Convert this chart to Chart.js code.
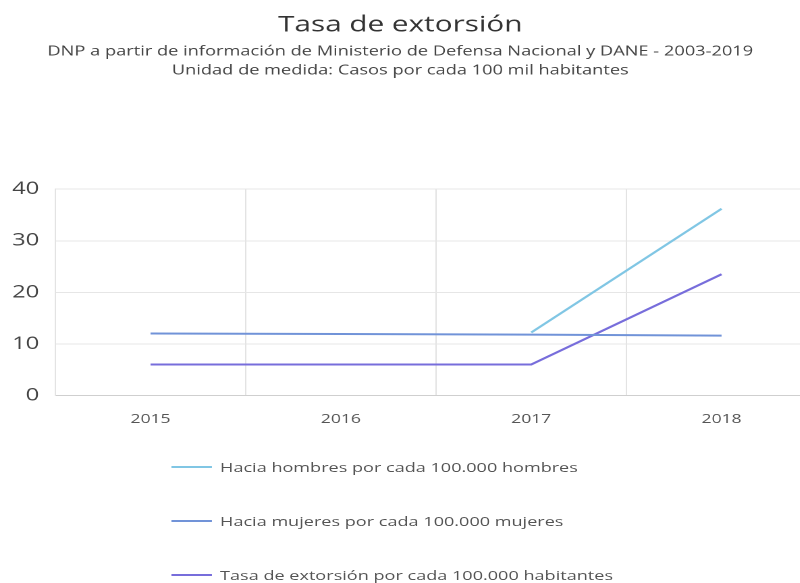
<!DOCTYPE html>
<html>
<head>
<meta charset="utf-8">
<script src="https://cdn.jsdelivr.net/npm/chart.js@4"></script>
<style>
  html, body { margin: 0; padding: 0; background: #fff; overflow: hidden; width: 800px; height: 583px; }
  /* the reference is stretched sideways, so the page is laid out narrower and widened */
  #stage { position: absolute; left: 0; top: 0; width: 593px; height: 583px; transform: scaleX(1.35); transform-origin: 0 0; }
  #chart { display: block; position: absolute; left: 0; top: 0; }
  #legend { position: absolute; left: 127px; top: 457px; font-family: 'Open Sans', sans-serif; font-size: 13.4px; color: #555; }
  .item { display: flex; align-items: center; height: 20px; margin-bottom: 34px; white-space: nowrap; }
  .swatch { width: 30px; height: 2px; margin-right: 6px; }
</style>
</head>
<body>
<div id="stage">
  <canvas id="chart" width="605" height="448"></canvas>
  <div id="legend"></div>
</div>
<script>
const years = ['2015', '2016', '2017', '2018'];
const hombres = [null, null, 12.2, 36.2];
const mujeres = [12, 11.9, 11.8, 11.6];
const tasa = [6, 6, 6, 23.5];

const seriesNames = [
  'Hacia hombres por cada 100.000 hombres',
  'Hacia mujeres por cada 100.000 mujeres',
  'Tasa de extorsión por cada 100.000 habitantes',
];
const seriesColors = ['#80c6e4', '#7193d8', '#776ddb'];

function makeDataset(label, data, color) {
  return {
    label,
    data,
    borderColor: color,
    backgroundColor: color,
    borderWidth: 2,
    pointRadius: 0,
    tension: 0,
  };
}

const ctx = document.getElementById('chart').getContext('2d');
const chart = new Chart(ctx, {
  type: 'line',
  data: {
    labels: years,
    datasets: [
      makeDataset(seriesNames[0], hombres, seriesColors[0]),
      makeDataset(seriesNames[1], mujeres, seriesColors[1]),
      makeDataset(seriesNames[2], tasa, seriesColors[2]),
    ],
  },
  options: {
    responsive: false,
    animation: false,
    devicePixelRatio: 2,
    layout: { padding: { left: -12, right: 0, top: 0, bottom: 5 } },
    plugins: {
      legend: { display: false },
      tooltip: { enabled: false },
      title: {
        display: true,
        text: 'Tasa de extorsión',
        color: '#333',
        font: { family: 'Open Sans', size: 22, weight: 'normal' },
        padding: { top: 12, bottom: 0 },
      },
      subtitle: {
        display: true,
        text: [
          'DNP a partir de información de Ministerio de Defensa Nacional y DANE - 2003-2019',
          'Unidad de medida: Casos por cada 100 mil habitantes',
        ],
        color: '#444',
        font: { family: 'Open Sans', size: 13.5, lineHeight: 1.4 },
        padding: { top: 4, bottom: 109 },
      },
    },
    scales: {
      x: {
        offset: true,
        grid: { offset: true, color: '#e3e3e3', drawTicks: false },
        border: { color: '#cfcfcf' },
        ticks: {
          color: '#555',
          padding: 16,
          font: { family: 'Open Sans', size: 13 },
          maxRotation: 0,
        },
      },
      y: {
        min: 0,
        max: 40,
        grid: { color: '#e6e6e6', drawTicks: false },
        border: { color: '#e3e3e3' },
        afterFit(scale) {
          scale.width = 53;
        },
        ticks: {
          stepSize: 10,
          color: '#444',
          padding: 12,
          font: { family: 'Open Sans', size: 17.5 },
        },
      },
    },
  },
});

// vertical legend list, built from the chart's datasets
const legendEl = document.getElementById('legend');
chart.data.datasets.forEach((ds) => {
  const item = document.createElement('div');
  item.className = 'item';
  const sw = document.createElement('span');
  sw.className = 'swatch';
  sw.style.background = ds.borderColor;
  const txt = document.createElement('span');
  txt.textContent = ds.label;
  item.appendChild(sw);
  item.appendChild(txt);
  legendEl.appendChild(item);
});
</script>
</body>
</html>
